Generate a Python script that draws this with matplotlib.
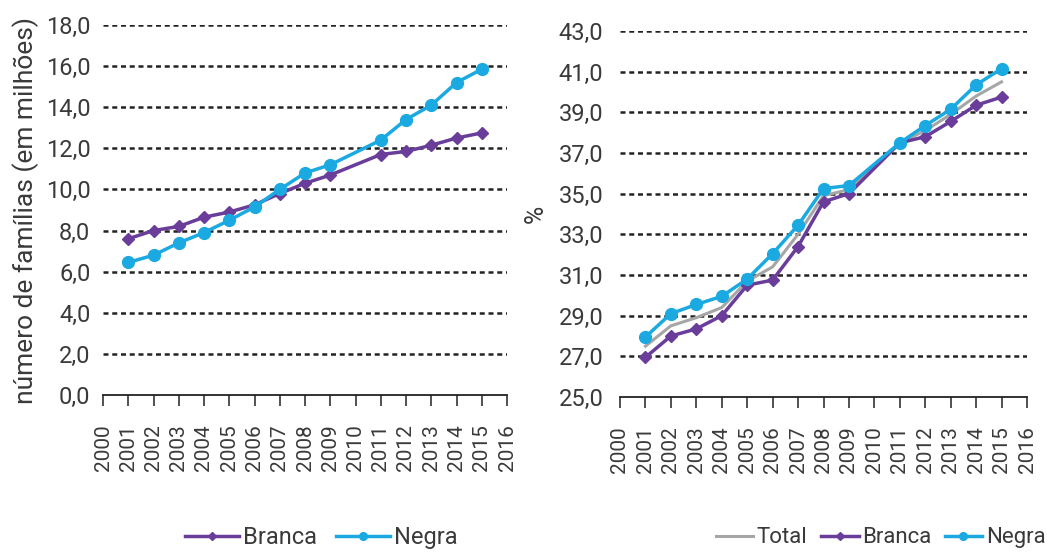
import matplotlib
matplotlib.use("Agg")
import matplotlib.pyplot as plt
import numpy as np

years = [2001, 2002, 2003, 2004, 2005, 2006, 2007, 2008, 2009, 2011, 2012, 2013, 2014, 2015]
xticks = list(range(2000, 2017))

# Left panel: number of families (millions)
branca_num = [7.6, 8.0, 8.2, 8.65, 8.9, 9.25, 9.8, 10.3, 10.7, 11.7, 11.85, 12.15, 12.5, 12.75]
negra_num = [6.45, 6.8, 7.4, 7.9, 8.5, 9.15, 10.0, 10.8, 11.2, 12.4, 13.4, 14.1, 15.2, 15.85]

# Right panel: percentage
total_pct = [27.5, 28.5, 28.9, 29.4, 30.7, 31.4, 33.0, 34.9, 35.2, 37.5, 38.1, 38.9, 39.8, 40.5]
branca_pct = [26.95, 28.0, 28.35, 29.0, 30.5, 30.75, 32.4, 34.6, 35.0, 37.5, 37.8, 38.55, 39.35, 39.75]
negra_pct = [27.95, 29.1, 29.55, 29.95, 30.8, 32.05, 33.45, 35.25, 35.4, 37.5, 38.35, 39.15, 40.35, 41.15]

left_yticks = [0, 2, 4, 6, 8, 10, 12, 14, 16, 18]
right_yticks = [25, 27, 29, 31, 33, 35, 37, 39, 41, 43]

C_BRANCA = "#6a3d9a"
C_NEGRA = "#1ba9e1"
C_TOTAL = "#a6a6a6"
plt.rcParams['font.family'] = ["Roboto", "DejaVu Sans"]
TXT = "#3a3a3a"

fig = plt.figure(figsize=(10.47, 5.56), dpi=100)
axL = fig.add_axes([103/1047, 1-395/556, 404/1047, 370/556])
axR = fig.add_axes([620/1047, 1-397/556, 407/1047, 366/556])


def fmt(v):
    return f"{v:.1f}".replace(".", ",")


def style(ax, yticks, ypad):
    ax.set_xlim(2000, 2016)
    ax.set_ylim(yticks[0], yticks[-1])
    ax.set_xticks(xticks)
    ax.set_xticklabels([str(x) for x in xticks], rotation=90, fontsize=15, color=TXT)
    ax.set_yticks(yticks)
    ax.set_yticklabels([fmt(v) for v in yticks], fontsize=17, color=TXT)
    for y in yticks[1:]:
        ax.axhline(y, color="#222222", lw=1.8, ls=(0, (2.0, 1.5)), zorder=1)
    for s in ["left", "right", "top"]:
        ax.spines[s].set_visible(False)
    ax.spines["bottom"].set_color("#222222")
    ax.spines["bottom"].set_linewidth(1.3)
    ax.tick_params(axis="x", direction="out", length=8, width=1.1, color="#222222", pad=13)
    ax.tick_params(axis="y", length=0, pad=ypad)


style(axL, left_yticks, 9)
style(axR, right_yticks, 12)

axL.plot(years, branca_num, color=C_BRANCA, lw=2.5, marker="D", ms=6, label="Branca", zorder=3)
axL.plot(years, negra_num, color=C_NEGRA, lw=2.5, marker="o", ms=8.5, label="Negra", zorder=4)
axL.set_ylabel("número de famílias (em milhões)", fontsize=19, color=TXT, labelpad=5)

axR.plot(years, total_pct, color=C_TOTAL, lw=2.2, label="Total", zorder=3)
axR.plot(years, branca_pct, color=C_BRANCA, lw=2.5, marker="D", ms=6, label="Branca", zorder=4)
axR.plot(years, negra_pct, color=C_NEGRA, lw=2.5, marker="o", ms=8.5, label="Negra", zorder=5)
axR.set_ylabel("%", fontsize=18, color=TXT, labelpad=8)

legkw = dict(frameon=False, handletextpad=0.15, markerscale=0.65,
             labelcolor=TXT, loc="center")
axL.legend(ncol=2, bbox_to_anchor=(0.54, -0.385), fontsize=17, handlelength=2.3,
           columnspacing=0.8, **legkw)
axR.legend(ncol=3, bbox_to_anchor=(0.64, -0.385), fontsize=16, handlelength=1.7,
           columnspacing=0.6, **legkw)

fig.savefig("out.png", dpi=100)
